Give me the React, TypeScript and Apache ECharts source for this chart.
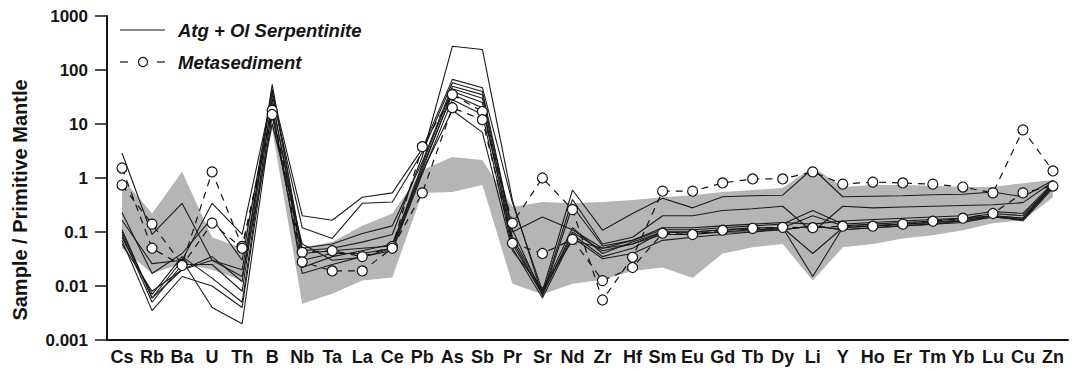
import React, { useEffect, useRef } from "react";
import * as echarts from "echarts";

const categories = ["Cs","Rb","Ba","U","Th","B","Nb","Ta","La","Ce","Pb","As","Sb","Pr","Sr","Nd","Zr","Hf","Sm","Eu","Gd","Tb","Dy","Li","Y","Ho","Er","Tm","Yb","Lu","Cu","Zn"];

const yTickLabels = ["0.001", "0.01", "0.1", "1", "10", "100", "1000"];

// grey field (range)
const bandUpper = [1.0,0.22,1.3,0.08,0.05,20,0.052,0.065,0.13,0.22,1.4,2.46,2.16,0.29,0.36,0.34,0.36,0.39,0.44,0.48,0.55,0.6,0.65,1.6,0.68,0.74,0.74,0.72,0.68,0.68,0.8,0.92];
const bandLower = [0.05,0.017,0.026,0.02,0.0126,8,0.0047,0.0072,0.0126,0.0144,0.53,0.55,0.74,0.011,0.007,0.011,0.013,0.019,0.022,0.014,0.04,0.052,0.06,0.0126,0.052,0.06,0.076,0.087,0.108,0.145,0.165,0.44];

// Atg + Ol serpentinite samples
const serp1 = [0.23,0.017,0.04,0.18,0.03,40,0.2,0.165,0.44,0.53,3.5,67,47,0.35,0.008,0.6,0.108,0.22,0.42,0.28,0.45,0.47,0.48,1.5,0.45,0.46,0.47,0.49,0.5,0.55,0.45,0.9];
const serp2 = [0.165,0.026,0.03,0.34,0.09,35,0.12,0.076,0.34,0.36,3.0,58,40,0.11,0.007,0.4,0.06,0.08,0.2,0.2,0.25,0.27,0.3,0.1,0.3,0.28,0.29,0.3,0.31,0.32,0.35,0.85];
const serp3 = [2.9,0.09,0.34,0.03,0.02,25,0.05,0.06,0.094,0.13,2.0,50,35,0.1,0.19,0.11,0.05,0.07,0.12,0.12,0.13,0.14,0.15,0.14,0.16,0.17,0.18,0.19,0.2,0.24,0.22,0.8];
const serp4 = [0.11,0.006,0.03,0.004,0.002,15,0.022,0.035,0.045,0.06,1.4,40,25,0.06,0.007,0.1,0.045,0.06,0.1,0.1,0.11,0.12,0.12,0.015,0.12,0.13,0.14,0.15,0.17,0.2,0.18,0.7];
const serp5 = [0.1,0.006,0.02,0.035,0.012,54,0.045,0.05,0.065,0.09,2.5,275,240,0.39,0.0065,0.3,0.055,0.07,0.11,0.11,0.12,0.13,0.14,0.25,0.14,0.15,0.16,0.17,0.18,0.22,0.2,0.75];
const serp6 = [0.09,0.005,0.025,0.025,0.008,45,0.04,0.045,0.05,0.055,1.8,45,30,0.08,0.008,0.12,0.04,0.065,0.1,0.095,0.1,0.11,0.11,0.13,0.11,0.12,0.13,0.14,0.15,0.19,0.17,0.8];
const serp7 = [0.08,0.007,0.035,0.014,0.005,30,0.03,0.04,0.04,0.05,1.6,35,20,0.07,0.007,0.09,0.035,0.05,0.1,0.1,0.11,0.11,0.12,0.2,0.13,0.14,0.15,0.16,0.18,0.2,0.16,0.65];
const serp8 = [0.07,0.0035,0.015,0.01,0.004,20,0.017,0.025,0.035,0.045,1.2,28,15,0.05,0.006,0.08,0.032,0.04,0.07,0.08,0.09,0.1,0.11,0.13,0.11,0.12,0.13,0.14,0.16,0.19,0.17,0.7];
const serp9 = [0.06,0.008,0.02,0.03,0.015,10,0.06,0.03,0.034,0.05,1.3,18,7,0.045,0.009,0.07,0.05,0.06,0.09,0.09,0.1,0.1,0.12,0.04,0.12,0.13,0.14,0.15,0.16,0.2,0.18,0.75];
const serpentinites = [serp1, serp2, serp3, serp4, serp5, serp6, serp7, serp8, serp9];

// Metasediment samples
const metaA = [0.74,0.14,0.025,1.3,0.054,18,0.042,0.045,0.035,0.054,3.8,35,17,0.146,1.0,0.26,0.0055,0.034,0.57,0.57,0.81,0.96,0.96,1.3,0.77,0.84,0.81,0.77,0.68,0.53,7.8,1.35];
const metaB = [1.53,0.05,0.024,0.146,0.05,15,0.028,0.019,0.019,0.05,0.53,20,12,0.062,0.04,0.073,0.0126,0.022,0.095,0.09,0.108,0.117,0.122,0.12,0.128,0.128,0.14,0.158,0.18,0.22,0.53,0.71];
const metasediments = [metaA, metaB];

const FONT = '"Liberation Sans", Arial, sans-serif';
const INK = "#141414";

export default function App() {
  const ref = useRef<HTMLDivElement>(null);
  useEffect(() => {
    document.body.style.margin = "0";
    if (!ref.current) return;
    const chart = echarts.init(ref.current, null, { renderer: "svg" });

    const bandSeries = {
      type: "custom",
      silent: true,
      z: 1,
      data: [[0, 1]],
      renderItem: (_params: any, api: any) => {
        const pts: number[][] = [];
        for (let i = 0; i < categories.length; i++) pts.push(api.coord([i, bandUpper[i]]));
        for (let i = categories.length - 1; i >= 0; i--) pts.push(api.coord([i, bandLower[i]]));
        return { type: "polygon", shape: { points: pts }, style: { fill: "#b5b5b5", stroke: "none" } };
      },
    };

    const serpSeries = serpentinites.map((d, k) => ({
      type: "line",
      name: "Atg + Ol Serpentinite " + (k + 1),
      data: d,
      z: 3,
      symbol: "none",
      lineStyle: { color: "#1c1c1c", width: 1.1 },
      silent: true,
    }));

    const metaSeries = metasediments.map((d, k) => ({
      type: "line",
      name: "Metasediment " + (k + 1),
      data: d,
      z: 5,
      symbol: "circle",
      symbolSize: 10,
      showAllSymbol: true,
      lineStyle: { color: INK, width: 1.2, type: [7, 6] },
      itemStyle: { color: "#ffffff", borderColor: INK, borderWidth: 1.2 },
      silent: true,
    }));

    chart.setOption({
      animation: false,
      grid: { left: 107, right: 4, top: 16, bottom: 30 },
      xAxis: {
        type: "category",
        data: categories,
        axisLine: { lineStyle: { color: INK, width: 2 } },
        axisTick: { length: 9, lineStyle: { color: INK, width: 1.5 } },
        axisLabel: { color: INK, fontSize: 18, fontWeight: "bold", fontFamily: FONT, margin: 8, interval: 0 },
        splitLine: { show: false },
      },
      yAxis: {
        type: "log",
        logBase: 10,
        min: 0.001,
        max: 1000,
        axisLine: { show: true, lineStyle: { color: INK, width: 2 } },
        axisTick: { show: true, length: 12, lineStyle: { color: INK, width: 1.5 } },
        splitLine: { show: false },
        minorTick: { show: false },
        axisLabel: {
          color: INK,
          fontSize: 17,
          fontWeight: "bold",
          fontFamily: FONT,
          margin: 19,
          formatter: (v: number) => yTickLabels[Math.round(Math.log10(v)) + 3],
        },
      },
      graphic: [
        {
          type: "text",
          x: 20,
          y: 200,
          rotation: Math.PI / 2,
          style: {
            text: "Sample / Primitive Mantle",
            font: 'bold 20px "Liberation Sans", Arial, sans-serif',
            fill: INK,
            align: "center",
            verticalAlign: "middle",
          },
        },
        { type: "line", shape: { x1: 120, y1: 30, x2: 165, y2: 30 }, style: { stroke: INK, lineWidth: 1.2 } },
        {
          type: "text",
          x: 178,
          y: 30,
          style: { text: "Atg + Ol Serpentinite", font: 'italic bold 18.5px "Liberation Sans", Arial, sans-serif', fill: INK, verticalAlign: "middle" },
        },
        { type: "line", shape: { x1: 120, y1: 62, x2: 128, y2: 62 }, style: { stroke: INK, lineWidth: 1.2 } },
        { type: "circle", shape: { cx: 143, cy: 62, r: 4.5 }, style: { fill: "#fff", stroke: INK, lineWidth: 1.2 } },
        { type: "line", shape: { x1: 157, y1: 62, x2: 165, y2: 62 }, style: { stroke: INK, lineWidth: 1.2 } },
        {
          type: "text",
          x: 178,
          y: 62,
          style: { text: "Metasediment", font: 'italic bold 18.5px "Liberation Sans", Arial, sans-serif', fill: INK, verticalAlign: "middle" },
        },
      ],
      series: [bandSeries, ...serpSeries, ...metaSeries],
    });
    return () => chart.dispose();
  }, []);
  return <div ref={ref} style={{ width: 1072, height: 370, position: "absolute", left: 0, top: 0 }} />;
}
